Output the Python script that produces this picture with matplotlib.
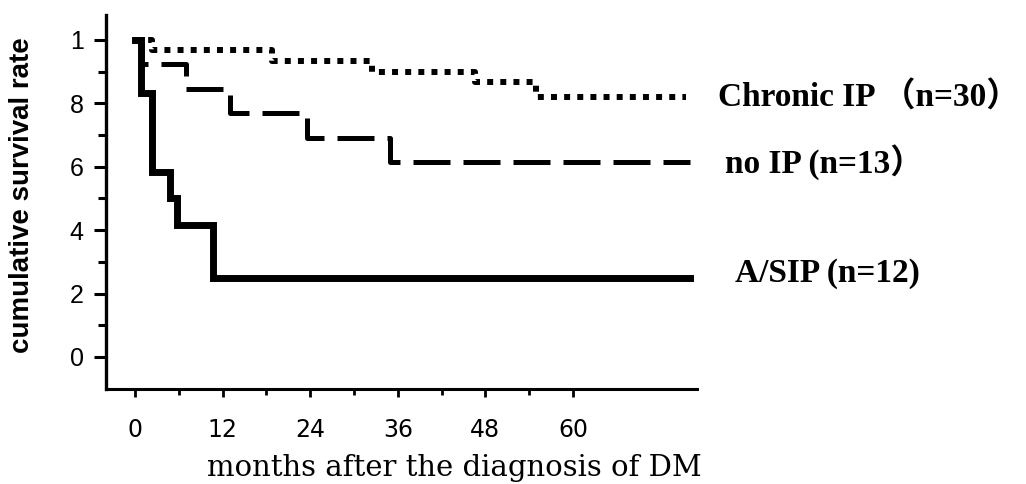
import matplotlib
matplotlib.use("Agg")
import matplotlib.pyplot as plt
from matplotlib.ticker import FixedLocator

# --- data (Kaplan-Meier steps) ---
asip_t = [0, 0.8, 2.3, 4.8, 5.8, 10.7, 76]
asip_s = [1.0, 0.833, 0.583, 0.5, 0.417, 0.25, 0.25]

noip_t = [0, 1.0, 7.0, 13.0, 23.6, 34.9, 76]
noip_s = [1.0, 0.923, 0.846, 0.769, 0.692, 0.615, 0.615]

chronic_t = [0, 2.3, 18.8, 32.5, 46.6, 55.0, 75.5]
chronic_s = [1.0, 0.967, 0.933, 0.9, 0.867, 0.82, 0.82]

xticks = [0, 12, 24, 36, 48, 60]
xtick_labels = ["0", "12", "24", "36", "48", "60"]
yticks = [0, 0.2, 0.4, 0.6, 0.8, 1.0]
ytick_labels = ["0", "2", "4", "6", "8", "1"]

labels = ["Chronic IP \uff08n=30\uff09", "no IP (n=13\uff09", "A/SIP (n=12)"]
label_pos = [(79.9, 0.82), (80.8, 0.615), (82.2, 0.262)]

fig = plt.figure(figsize=(10.26, 4.84), dpi=100)
ax = fig.add_axes([0.1033, 0.1969, 0.576, 0.7729])

ax.step(chronic_t, chronic_s, where="post", color="black", lw=4.3,
        linestyle=(0, (1.0, 1.2)), dash_capstyle="butt")
ax.step(noip_t, noip_s, where="post", color="black", lw=3.6,
        linestyle=(0, (7.4, 2.6)), dash_capstyle="butt")
ax.step(asip_t, asip_s, where="post", color="black", lw=5.0,
        solid_joinstyle="miter")

ax.set_xlim(-4, 77)
ax.set_ylim(-0.1, 1.08)

for s in ["top", "right"]:
    ax.spines[s].set_visible(False)
ax.spines["left"].set_linewidth(2.4)
ax.spines["bottom"].set_linewidth(2.2)

ax.set_xticks(xticks)
ax.set_xticklabels(xtick_labels, fontsize=17, family="DejaVu Sans")
ax.xaxis.set_minor_locator(FixedLocator([6, 18, 30, 42, 54]))
ax.set_yticks(yticks)
ax.set_yticklabels(ytick_labels, fontsize=18, family="Liberation Sans")
ax.yaxis.set_minor_locator(FixedLocator([0.1, 0.3, 0.5, 0.7, 0.9]))

ax.tick_params(axis="y", which="major", direction="out", length=9, width=2.2, pad=7)
ax.tick_params(axis="y", which="minor", direction="out", length=6, width=2.2)
ax.tick_params(axis="x", which="major", direction="out", length=6, width=2.0, pad=15)
ax.tick_params(axis="x", which="minor", direction="out", length=4, width=2.0)

for txt, (lx, ly) in zip(labels, label_pos):
    ax.text(lx, ly, txt, fontsize=24, fontweight="bold",
            family=["Liberation Serif", "Noto Sans CJK JP"],
            ha="left", va="center", clip_on=False)

fig.text(0.443, 0.033, "months after the diagnosis of DM", fontsize=21,
         family="DejaVu Serif", ha="center", va="center")
fig.text(0.021, 0.597, "cumulative survival rate", fontsize=20, fontweight="bold",
         family="Liberation Sans", rotation=90, ha="center", va="center")

fig.savefig("out.png", dpi=100)
